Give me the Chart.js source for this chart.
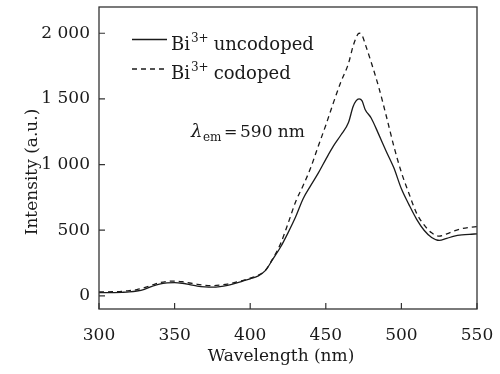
<!DOCTYPE html>
<html>
<head>
<meta charset="utf-8">
<script src="https://cdn.jsdelivr.net/npm/chart.js@4/dist/chart.umd.min.js"></script>
<style>
html,body{margin:0;padding:0;background:#fff;}
#wrap{width:500px;height:374px;}
</style>
</head>
<body>
<div id="wrap"><canvas id="c" width="500" height="374"></canvas></div>
<script>
const wavelengths = [300,305,310,315,320,325,330,335,340,345,350,355,360,365,370,375,380,385,390,395,400,405,410,415,420,425,430,435,440,445,450,455,460,465,468,470,472,474,476,480,485,490,495,500,505,510,515,520,525,530,535,540,545,550];
const uncodoped = [24,24,25,27,30,37,50,72,90,99,101,96,85,74,68,66,70,80,95,113,130,150,192,280,370,480,600,740,840,935,1040,1140,1225,1320,1440,1485,1500,1485,1420,1355,1230,1100,975,815,695,585,500,445,422,438,455,464,469,472];
const codoped = [30,30,32,35,40,48,62,82,100,110,113,108,98,88,81,78,82,90,102,117,135,155,193,285,395,550,715,840,975,1140,1300,1470,1630,1770,1900,1965,2000,1985,1920,1780,1590,1370,1140,940,780,630,540,480,455,472,495,512,522,528];
const xTicks = [300,350,400,450,500,550];
const yTicks = [0,500,1000,1500,2000];
const seriesNames = ["uncodoped","codoped"];

const FONT = "'DejaVu Serif', serif";
const INK = '#1a1a1a';

function pts(ys){ return wavelengths.map((x,i)=>({x:x,y:ys[i]})); }

const decor = {
  id:'decor',
  afterDraw(chart){
    const ctx = chart.ctx, a = chart.chartArea;
    const xs = chart.scales.x, ys = chart.scales.y;
    ctx.save();
    // frame
    ctx.strokeStyle = '#333';
    ctx.lineWidth = 1.3;
    ctx.strokeRect(a.left, a.top, a.right-a.left, a.bottom-a.top);
    // inward ticks
    ctx.lineWidth = 1.2;
    ctx.beginPath();
    xs.ticks.forEach(t=>{
      const p = xs.getPixelForValue(t.value);
      ctx.moveTo(p, a.bottom); ctx.lineTo(p, a.bottom-6);
    });
    ys.ticks.forEach(t=>{
      const p = ys.getPixelForValue(t.value);
      ctx.moveTo(a.left, p); ctx.lineTo(a.left+6, p);
    });
    ctx.stroke();
    // axis titles
    ctx.fillStyle = INK;
    ctx.font = '17px ' + FONT;
    ctx.textAlign = 'center';
    ctx.textBaseline = 'alphabetic';
    ctx.fillText('Wavelength (nm)', 281, 361);
    ctx.save();
    ctx.translate(37, 172);
    ctx.rotate(-Math.PI/2);
    ctx.fillText('Intensity (a.u.)', 0, 0);
    ctx.restore();
    // legend
    ctx.textAlign = 'left';
    const rows = [{y:39.5, base:50}, {y:69, base:79}];
    chart.data.datasets.forEach((ds,i)=>{
      const r = rows[i];
      ctx.strokeStyle = INK;
      ctx.lineWidth = 1.3;
      ctx.setLineDash(ds.borderDash || []);
      ctx.beginPath();
      ctx.moveTo(132, r.y); ctx.lineTo(167, r.y);
      ctx.stroke();
      ctx.setLineDash([]);
      let x = 171;
      ctx.font = '18px ' + FONT;
      ctx.fillText('Bi', x, r.base);
      x += ctx.measureText('Bi').width + 1;
      ctx.font = '12px ' + FONT;
      ctx.fillText('3+', x, r.base - 8);
      x += ctx.measureText('3+').width + 5;
      ctx.font = '18px ' + FONT;
      ctx.fillText(seriesNames[i], x, r.base);
    });
    // lambda_em annotation
    const b = 137;
    ctx.font = 'italic 18px ' + FONT;
    ctx.fillText('\u03bb', 191, b);
    ctx.font = '12px ' + FONT;
    ctx.fillText('em', 203, b + 4);
    ctx.font = '16px ' + FONT;
    ctx.fillText('=', 224, b);
    ctx.font = '17px ' + FONT;
    ctx.fillText('590 nm', 240, b);
    ctx.restore();
  }
};

new Chart(document.getElementById('c'), {
  type:'line',
  data:{
    datasets:[
      {label:'Bi3+ uncodoped', data:pts(uncodoped), borderColor:INK, borderWidth:1.3, pointRadius:0, fill:false, cubicInterpolationMode:'monotone'},
      {label:'Bi3+ codoped', data:pts(codoped), borderColor:INK, borderWidth:1.3, borderDash:[5,4], pointRadius:0, fill:false, cubicInterpolationMode:'monotone'}
    ]
  },
  options:{
    responsive:false,
    animation:false,
    events:[],
    layout:{padding:{left:0,right:23,top:7,bottom:0}},
    plugins:{legend:{display:false}, tooltip:{enabled:false}},
    scales:{
      x:{
        type:'linear', min:300, max:550,
        afterBuildTicks:s=>{ s.ticks = xTicks.map(v=>({value:v})); },
        afterFit:s=>{ s.height = 65; s.paddingLeft = 0; s.paddingRight = 0; },
        grid:{display:false, drawTicks:false},
        border:{display:false},
        ticks:{color:INK, font:{family:FONT, size:17}, padding:16, maxRotation:0, autoSkip:false}
      },
      y:{
        type:'linear', min:-100, max:2200,
        afterBuildTicks:s=>{ s.ticks = yTicks.map(v=>({value:v})); },
        afterFit:s=>{ s.width = 99; s.paddingTop = 0; s.paddingBottom = 0; },
        grid:{display:false, drawTicks:false},
        border:{display:false},
        ticks:{color:INK, font:{family:FONT, size:17}, padding:9, autoSkip:false,
          callback:v=> v>=1000 ? String(Math.floor(v/1000))+' '+String(v%1000).padStart(3,'0') : String(v)}
      }
    }
  },
  plugins:[decor]
});
</script>
</body>
</html>
